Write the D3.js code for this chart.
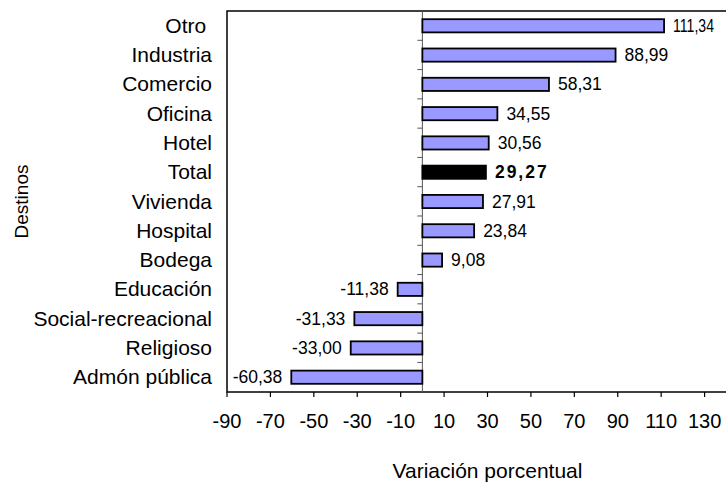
<!DOCTYPE html>
<html>
<head>
<meta charset="utf-8">
<script src="https://cdn.jsdelivr.net/npm/d3@7"></script>
<style>
	body{margin:0;background:#fff;}
	svg text{font-family:"Liberation Sans",Arial,sans-serif;fill:#000;}
</style>
</head>
<body>
<div id="chart"></div>
<script>
// data
var categories = ['Otro ','Industria','Comercio','Oficina','Hotel','Total','Vivienda',
	'Hospital','Bodega','Educación','Social-recreacional','Religioso','Admón pública'];
var values = [111.34,88.99,58.31,34.55,30.56,29.27,27.91,23.84,9.08,-11.38,-31.33,-33.00,-60.38];
var highlight = ['Total'];
var tickValues = [-90,-70,-50,-30,-10,10,30,50,70,90,110,130];
var xTitle = 'Variación porcentual';
var yTitle = 'Destinos';

var W = 726, H = 485;
var plot = {left:227, top:11, right:748, bottom:392};

var es = d3.formatLocale({decimal:',',thousands:'.',grouping:[3],currency:['','€'],minus:'-'});
var fmt = es.format('.2f');
var fmtTick = es.format('d');

var rows = categories.map(function(c,i){return {name:c,value:values[i],hi:highlight.indexOf(c.trim())>=0};});

function createSvg(id){
	return d3.select(id)
		.append('svg')
		.attr('width',W)
		.attr('height',H)
		.style('display','block');
}

var svg = createSvg('#chart');

var x = d3.scaleLinear().domain([-90,150]).range([plot.left,plot.right]);
var y = d3.scaleBand().domain(categories).range([plot.top,plot.bottom])
	.paddingInner(0.55).paddingOuter(0.28);

// frame (right side runs past the picture edge)
svg.append('rect')
	.attr('x',plot.left).attr('y',plot.top)
	.attr('width',plot.right-plot.left).attr('height',plot.bottom-plot.top)
	.attr('fill','none').attr('stroke','#000').attr('stroke-width',1.5);

// zero line with category ticks
svg.append('line')
	.attr('x1',x(0)).attr('x2',x(0))
	.attr('y1',plot.top).attr('y2',plot.bottom)
	.attr('stroke','#555').attr('stroke-width',1);

var step = y.step();
var bounds = d3.range(1,categories.length);
svg.selectAll('.ctick')
	.data(bounds).enter()
	.append('line')
	.attr('class','ctick')
	.attr('x1',x(0)-5).attr('x2',x(0))
	.attr('y1',function(d){return plot.top+d*step;})
	.attr('y2',function(d){return plot.top+d*step;})
	.attr('stroke','#555').attr('stroke-width',1);

// bars
svg.selectAll('.bar')
	.data(rows).enter()
	.append('rect')
	.attr('class','bar')
	.attr('x',function(d){return x(Math.min(0,d.value));})
	.attr('y',function(d){return y(d.name);})
	.attr('width',function(d){return Math.abs(x(d.value)-x(0));})
	.attr('height',y.bandwidth())
	.attr('fill',function(d){return d.hi?'#000':'#9999FF';})
	.attr('stroke','#000')
	.attr('stroke-width',1.8);

// value labels
var vlab = svg.selectAll('.vlab')
	.data(rows).enter()
	.append('text')
	.attr('class','vlab')
	.attr('x',function(d){return d.value>=0 ? x(d.value)+9 : x(d.value)-9;})
	.attr('y',function(d){return y(d.name)+y.bandwidth()/2+6;})
	.attr('text-anchor',function(d){return d.value>=0?'start':'end';})
	.style('font-size','17.5px')
	.style('font-weight',function(d){return d.hi?'bold':'normal';})
	.style('letter-spacing',function(d){return d.hi?'2px':'0px';})
	.text(function(d){return fmt(d.value);});
// squeeze labels that would run past the edge
vlab.each(function(d){
	var w = this.getComputedTextLength(), x0 = +this.getAttribute('x');
	if (d.value>=0 && x0+w > W-12){
		d3.select(this).attr('textLength',W-12-x0).attr('lengthAdjust','spacingAndGlyphs');
	}
});

// category labels
svg.selectAll('.clab')
	.data(categories).enter()
	.append('text')
	.attr('class','clab')
	.attr('x',212)
	.attr('y',function(d){return y(d)+y.bandwidth()/2+7;})
	.attr('text-anchor','end')
	.style('font-size','21px')
	.style('white-space','pre')
	.text(function(d){return d;});

// x ticks
svg.selectAll('.xtick')
	.data(tickValues).enter()
	.append('line')
	.attr('class','xtick')
	.attr('x1',function(d){return x(d);}).attr('x2',function(d){return x(d);})
	.attr('y1',plot.bottom).attr('y2',plot.bottom+5)
	.attr('stroke','#000').attr('stroke-width',1.2);

svg.selectAll('.xlab')
	.data(tickValues).enter()
	.append('text')
	.attr('class','xlab')
	.attr('x',function(d){return x(d);})
	.attr('y',428)
	.attr('text-anchor','middle')
	.style('font-size','20px')
	.text(function(d){return fmtTick(d);});

// axis titles
svg.append('text')
	.attr('x',(plot.left+plot.right)/2)
	.attr('y',478)
	.attr('text-anchor','middle')
	.style('font-size','21px')
	.text(xTitle);

svg.append('text')
	.attr('transform','translate(28,'+((plot.top+plot.bottom)/2)+') rotate(-90)')
	.attr('text-anchor','middle')
	.style('font-size','19px')
	.text(yTitle);
</script>
</body>
</html>
